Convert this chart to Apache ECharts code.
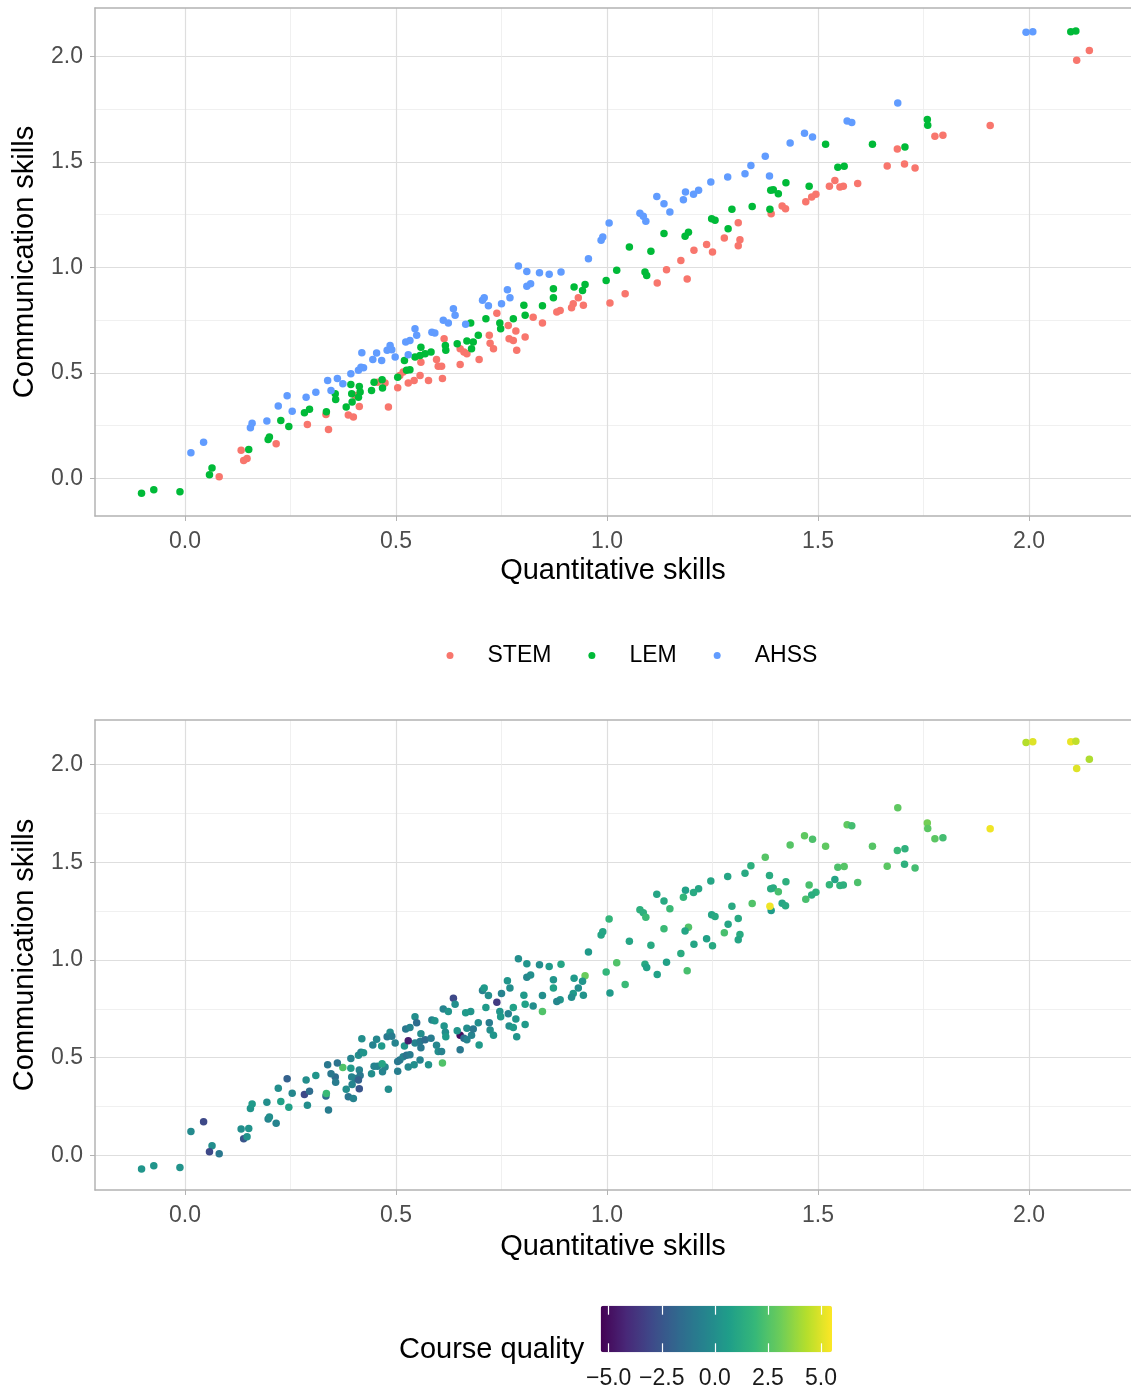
<!DOCTYPE html>
<html>
<head>
<meta charset="utf-8">
<script src="https://cdn.jsdelivr.net/npm/echarts@6/dist/echarts.min.js"></script>
<style>
  html, body { margin: 0; padding: 0; background: #fff; }
  #chart { width: 1131px; height: 1390px; }
</style>
</head>
<body>
<div id="chart"></div>
<script>
// groups in the top panel
const groups = ['STEM', 'LEM', 'AHSS']
const groupColors = ['#F8766D', '#00BA38', '#619CFF']

// STEM
const stemX = [0.081,0.133,0.139,0.147,0.216,0.290,0.340,0.334,0.387,0.399,
  0.403,0.413,0.456,0.474,0.482,0.504,0.509,0.517,0.529,0.543,
  0.557,0.559,0.577,0.596,0.600,0.608,0.610,0.614,0.652,0.661,
  0.668,0.652,0.697,0.721,0.723,0.731,0.739,0.766,0.768,0.778,
  0.786,1.007,0.944,0.932,0.920,0.916,0.889,0.881,0.847,0.825,
  0.806,0.784,1.415,1.423,1.389,1.311,1.278,1.315,1.311,1.236,
  1.250,1.206,1.175,1.141,1.190,1.119,1.043,1.777,1.796,1.688,
  1.664,1.705,1.730,1.594,1.540,1.527,1.552,1.560,1.495,1.485,
  1.471,2.143,2.113,1.908]
const stemY = [0.008,0.134,0.085,0.095,0.164,0.256,0.232,0.303,0.300,0.291,
  0.393,0.341,0.456,0.452,0.338,0.430,0.488,0.504,0.452,0.464,
  0.488,0.551,0.464,0.563,0.531,0.531,0.473,0.662,0.615,0.599,
  0.591,0.540,0.564,0.678,0.641,0.615,0.783,0.725,0.662,0.654,
  0.607,0.831,0.820,0.856,0.828,0.809,0.796,0.788,0.736,0.764,
  0.670,0.698,1.291,1.278,1.254,1.212,1.139,1.131,1.103,1.109,
  1.073,1.081,1.033,0.989,0.945,0.926,0.875,1.621,1.626,1.561,
  1.480,1.490,1.471,1.397,1.412,1.385,1.381,1.384,1.347,1.333,
  1.311,2.028,1.981,1.672]
const stemQ = [-1.0,0.0,-2.5,0.2,-0.5,0.0,-0.8,-1.5,-1.2,-0.5,
  -0.8,-2.5,-0.5,-0.3,0.0,-0.7,-1.0,-0.5,-0.3,0.0,
  -0.5,-1.0,0.2,-0.3,0.0,-0.5,2.5,0.3,-5.0,-1.5,
  -0.5,-1.0,0.5,-0.8,0.0,0.3,-3.5,-0.5,0.0,0.5,
  0.3,0.5,0.2,0.0,0.5,0.0,0.3,-0.3,2.5,0.0,
  0.5,0.3,1.0,1.2,0.6,1.2,2.3,1.3,1.0,0.8,
  1.2,1.0,1.3,0.8,2.3,0.8,2.0,2.7,2.2,2.0,
  2.7,1.5,2.2,2.4,1.0,1.8,1.7,1.5,1.6,1.4,
  2.3,4.2,5.0,5.3]

// LEM
const lemX = [-0.103,-0.074,-0.012,0.064,0.058,0.151,0.197,0.200,0.227,0.246,
  0.283,0.295,0.335,0.356,0.357,0.382,0.393,0.395,0.396,0.413,
  0.415,0.411,0.442,0.448,0.467,0.468,0.504,0.520,0.525,0.533,
  0.545,0.557,0.559,0.569,0.583,0.617,0.618,0.645,0.668,0.677,
  0.679,0.683,0.695,0.713,0.746,0.748,0.778,1.023,0.998,0.948,
  0.942,0.922,0.873,0.873,0.847,0.803,0.806,1.424,1.388,1.394,
  1.406,1.344,1.296,1.386,1.248,1.256,1.287,1.193,1.185,1.135,
  1.053,1.104,1.090,1.094,1.759,1.760,1.706,1.629,1.518,1.547,
  1.562,1.479,2.099,2.111]
const lemY = [-0.070,-0.054,-0.063,0.049,0.018,0.137,0.185,0.196,0.275,0.246,
  0.311,0.328,0.316,0.401,0.374,0.338,0.445,0.401,0.362,0.436,
  0.409,0.385,0.417,0.456,0.468,0.428,0.480,0.559,0.512,0.515,
  0.575,0.583,0.622,0.591,0.599,0.630,0.607,0.638,0.651,0.736,
  0.615,0.646,0.678,0.757,0.736,0.709,0.757,0.986,0.938,0.919,
  0.891,0.907,0.899,0.856,0.818,0.820,0.773,1.401,1.365,1.368,
  1.349,1.289,1.275,1.275,1.231,1.223,1.183,1.167,1.148,1.160,
  1.096,1.076,0.978,0.962,1.701,1.673,1.570,1.583,1.583,1.475,
  1.479,1.384,2.117,2.120]
const lemQ = [0.3,0.3,0.2,0.0,-3.0,0.2,-0.5,0.0,0.8,0.8,
  -3.0,-1.5,2.0,-1.5,-0.8,0.0,0.5,-0.5,-0.5,-0.5,
  -1.0,-2.0,0.0,-0.5,1.0,-0.5,-1.0,0.3,-1.2,-0.8,
  -0.5,-1.0,0.0,-1.5,-0.8,0.0,0.5,0.3,0.0,0.3,
  -0.5,-1.0,0.0,0.5,0.3,0.5,0.8,2.5,1.8,3.0,
  0.3,0.5,0.3,0.8,0.0,0.5,0.8,1.5,1.3,1.3,
  2.3,2.5,1.2,5.3,1.0,1.2,1.0,2.5,1.0,2.0,
  1.0,1.2,1.2,0.8,3.2,2.7,1.6,2.6,2.8,2.4,
  2.6,2.3,5.2,4.5]

// AHSS
const ahssX = [0.014,0.044,0.155,0.159,0.194,0.221,0.242,0.254,0.287,0.310,
  0.346,0.338,0.374,0.361,0.393,0.411,0.417,0.423,0.419,0.445,
  0.454,0.466,0.479,0.486,0.490,0.498,0.529,0.523,0.533,0.545,
  0.549,0.585,0.592,0.612,0.624,0.636,0.640,0.665,0.705,0.719,
  0.750,0.986,0.956,0.790,0.810,0.840,0.863,0.891,0.810,0.819,
  0.764,0.770,0.709,1.327,1.286,1.385,1.246,1.217,1.205,1.186,
  1.181,1.118,1.135,1.149,1.078,1.086,1.092,1.005,0.990,1.689,
  1.569,1.580,1.468,1.487,1.434,1.375,1.341,1.993,2.009]
const ahssY = [0.122,0.171,0.240,0.262,0.272,0.343,0.392,0.318,0.385,0.408,
  0.417,0.464,0.449,0.473,0.496,0.512,0.527,0.525,0.596,0.564,
  0.594,0.559,0.607,0.630,0.610,0.575,0.586,0.646,0.654,0.709,
  0.678,0.693,0.689,0.749,0.736,0.804,0.773,0.730,0.844,0.818,
  0.828,1.128,1.041,1.006,0.981,0.975,0.967,0.978,0.911,0.923,
  0.894,0.856,0.856,1.444,1.428,1.433,1.404,1.365,1.346,1.357,
  1.321,1.336,1.302,1.262,1.257,1.242,1.219,1.210,1.144,1.779,
  1.693,1.687,1.636,1.618,1.589,1.526,1.483,2.114,2.117]
const ahssQ = [-0.2,-3.0,0.3,0.5,0.0,0.0,-2.0,-0.3,0.0,0.3,
  -1.0,-1.0,2.5,-1.2,-0.5,0.0,-0.5,0.3,0.0,-0.5,
  -0.3,0.5,-1.0,0.0,-0.8,-0.5,-4.5,-1.0,-0.5,0.0,
  -1.5,-0.5,0.3,-0.5,0.3,-3.0,0.0,0.5,-0.5,0.0,
  -0.5,1.0,0.5,0.0,0.3,0.0,0.5,1.0,-0.3,0.0,
  0.3,0.0,0.5,1.2,1.0,1.3,1.0,1.0,1.2,0.8,
  1.8,1.0,1.2,2.0,1.5,1.5,2.0,1.8,1.0,2.8,
  2.8,2.2,2.8,2.4,2.6,2.6,1.5,4.3,5.0]

// axis ranges, tick values and colourbar
const xRange = [-0.2133, 2.2417]
const yRange = [-0.178, 2.229]
const axisTicks = [0, 0.5, 1, 1.5, 2]
const qualityRange = [-5.377, 5.518]
const qualityTicks = [-5, -2.5, 0, 2.5, 5]
const viridis = ['#440154', '#482878', '#3E4A89', '#31688E', '#26828E',
  '#1F9E89', '#35B779', '#6DCD59', '#B4DE2C', '#FDE725']

const FONT = 'Liberation Sans, Arial, sans-serif'
const BORDER = { color: '#b3b3b3', width: 1.5 }

const zip2 = (xs, ys) => xs.map((x, i) => [x, ys[i]])
const zip3 = (xs, ys, qs) => xs.map((x, i) => [x, ys[i], qs[i]])

const fmtHalf = v => {
  if (Math.abs(v * 2 - Math.round(v * 2)) > 1e-6) return ''
  return (v < 0 ? '\u2212' : '') + Math.abs(v).toFixed(1)
}

function makeAxis(gridIndex, range, name, isX, titleGap) {
  return {
    type: 'value',
    gridIndex: gridIndex,
    min: range[0],
    max: range[1],
    splitNumber: 5,
    name: name,
    nameLocation: 'middle',
    nameGap: titleGap,
    nameRotate: isX ? 0 : 90,
    nameTextStyle: { fontSize: 29, color: '#000', fontFamily: FONT },
    axisLine: { show: true, onZero: false, lineStyle: BORDER },
    axisTick: { show: true, length: 5, customValues: axisTicks,
      lineStyle: { color: '#b3b3b3', width: 1 } },
    axisLabel: {
      fontSize: 23, color: '#4d4d4d', fontFamily: FONT,
      margin: isX ? 14 : 12,
      formatter: fmtHalf
    },
    splitLine: { show: true, lineStyle: { color: '#dedede', width: 1.2 } },
    minorTick: { show: false, splitNumber: 2 },
    minorSplitLine: { show: true, lineStyle: { color: '#ececec', width: 0.8 } }
  }
}

// top edge of a panel frame
function topEdge(gridIndex) {
  return {
    type: 'value', gridIndex: gridIndex, position: 'top',
    min: xRange[0], max: xRange[1],
    axisLine: { show: true, onZero: false, lineStyle: BORDER },
    axisTick: { show: false }, axisLabel: { show: false }, splitLine: { show: false }
  }
}

const allQuality = zip3(stemX, stemY, stemQ)
  .concat(zip3(lemX, lemY, lemQ))
  .concat(zip3(ahssX, ahssY, ahssQ))

const fmtQ = v => (v < 0 ? '\u2212' : '') + Math.abs(v).toFixed(1)

const chart = echarts.init(document.getElementById('chart'), null, { renderer: 'canvas' })

const option = {
  backgroundColor: '#fff',
  animation: false,
  textStyle: { fontFamily: FONT },
  grid: [
    { left: 95, top: 8, width: 1036, height: 508, outerBoundsMode: 'none' },
    { left: 95, top: 720, width: 1036, height: 470, outerBoundsMode: 'none' },
    { left: 600.7, top: 1305.7, width: 231.3, height: 46.6, outerBoundsMode: 'none' }
  ],
  xAxis: [
    makeAxis(0, xRange, 'Quantitative skills', true, 40),
    makeAxis(1, xRange, 'Quantitative skills', true, 42),
    {
      type: 'value', gridIndex: 2, min: qualityRange[0], max: qualityRange[1], z: 10,
      axisLine: { show: false },
      axisTick: { show: true, inside: true, length: 9, customValues: qualityTicks,
        lineStyle: { color: '#fff', width: 1.2 } },
      axisLabel: { show: true, customValues: qualityTicks, formatter: fmtQ,
        fontSize: 23, color: '#1a1a1a', fontFamily: FONT, margin: 15 },
      splitLine: { show: false }
    },
    {
      type: 'value', gridIndex: 2, position: 'top', min: qualityRange[0], max: qualityRange[1], z: 10,
      axisLine: { show: false },
      axisTick: { show: true, inside: true, length: 9, customValues: qualityTicks,
        lineStyle: { color: '#fff', width: 1.2 } },
      axisLabel: { show: false },
      splitLine: { show: false }
    },
    topEdge(0),
    topEdge(1)
  ],
  yAxis: [
    makeAxis(0, yRange, 'Communication skills', false, 56),
    makeAxis(1, yRange, 'Communication skills', false, 56),
    { type: 'value', gridIndex: 2, min: 0, max: 1, show: false }
  ],
  legend: {
    data: groups,
    left: 441.5,
    top: 639,
    icon: 'circle',
    itemWidth: 7,
    itemHeight: 7,
    itemGap: 37,
    textStyle: { fontSize: 23, color: '#000', fontFamily: FONT, padding: [0, 0, 0, 29] }
  },
  visualMap: {
    type: 'continuous',
    seriesIndex: 3,
    dimension: 2,
    min: qualityRange[0],
    max: qualityRange[1],
    orient: 'horizontal',
    left: 600.7,
    top: 1305.7,
    itemWidth: 46.6,
    itemHeight: 231.3,
    padding: 0,
    calculable: false,
    hoverLink: false,
    text: null,
    inRange: { color: viridis }
  },
  graphic: [
    {
      type: 'text', left: 399, top: 1335,
      style: { text: 'Course quality', fontSize: 29, fill: '#000', fontFamily: FONT }
    }
  ],
  series: [
    { name: 'STEM', type: 'scatter', xAxisIndex: 0, yAxisIndex: 0, symbolSize: 7.5,
      itemStyle: { color: groupColors[0], opacity: 1 }, data: zip2(stemX, stemY) },
    { name: 'LEM', type: 'scatter', xAxisIndex: 0, yAxisIndex: 0, symbolSize: 7.5,
      itemStyle: { color: groupColors[1], opacity: 1 }, data: zip2(lemX, lemY) },
    { name: 'AHSS', type: 'scatter', xAxisIndex: 0, yAxisIndex: 0, symbolSize: 7.5,
      itemStyle: { color: groupColors[2], opacity: 1 }, data: zip2(ahssX, ahssY) },
    { name: 'quality', type: 'scatter', xAxisIndex: 1, yAxisIndex: 1, symbolSize: 7.5,
      itemStyle: { opacity: 1 }, data: allQuality }
  ]
}

chart.setOption(option)
</script>
</body>
</html>
